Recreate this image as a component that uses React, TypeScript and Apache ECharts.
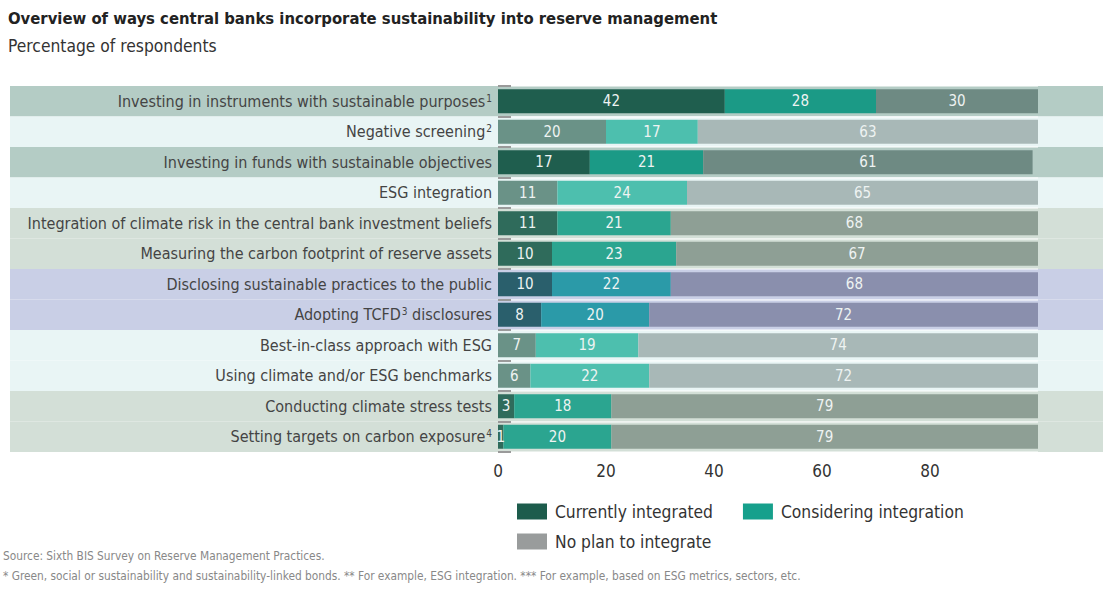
import React, { useEffect, useRef } from "react";
import * as echarts from "echarts";

const categories = [
  "Investing in instruments with sustainable purposes",
  "Negative screening",
  "Investing in funds with sustainable objectives",
  "ESG integration",
  "Integration of climate risk in the central bank investment beliefs",
  "Measuring the carbon footprint of reserve assets",
  "Disclosing sustainable practices to the public",
  "Adopting TCFD{sup|3} disclosures",
  "Best-in-class approach with ESG",
  "Using climate and/or ESG benchmarks",
  "Conducting climate stress tests",
  "Setting targets on carbon exposure",
];
const footnoteMarks = ["1", "2", "", "", "", "", "", "", "", "", "", "4"];

const currentlyIntegrated = [42, 20, 17, 11, 11, 10, 10, 8, 7, 6, 3, 1];
const consideringIntegration = [28, 17, 21, 24, 21, 23, 22, 20, 19, 22, 18, 20];
const noPlanToIntegrate = [30, 63, 61, 65, 68, 67, 68, 72, 74, 72, 79, 79];

const xTicks = [0, 20, 40, 60, 80];

const seriesNames = ["Currently integrated", "Considering integration", "No plan to integrate"];

const rowGroups = ["dark", "light", "dark", "light", "sage", "sage", "blue", "blue", "light", "light", "sage", "sage"];

const palettes: Record<string, { band: string; cur: string; con: string; no: string }> = {
  dark: { band: "#b4ccc5", cur: "#1f5e4e", con: "#1b9a86", no: "#6e8a83" },
  light: { band: "#e9f5f5", cur: "#6a9287", con: "#4dbfae", no: "#a8b8b7" },
  sage: { band: "#d3dfd7", cur: "#2f6b5b", con: "#2ba590", no: "#8e9f95" },
  blue: { band: "#c9cfe6", cur: "#2a5f6c", con: "#2b9aa8", no: "#8a8fad" },
};

const FONT = "'DejaVu Sans Condensed', 'Liberation Sans Narrow', 'Open Sans', sans-serif";

const sourceText = "Source: Sixth BIS Survey on Reserve Management Practices.";
const noteText =
  "* Green, social or sustainability and sustainability-linked bonds. ** For example, ESG integration. *** For example, based on ESG metrics, sectors, etc.";

export default function App() {
  const ref = useRef<HTMLDivElement>(null);

  useEffect(() => {
    document.body.style.margin = "0";
    if (!ref.current) return;
    const chart = echarts.init(ref.current, null, { renderer: "svg" });

    const labelColor = "#eef3f2";
    const mkData = (vals: number[], key: "cur" | "con" | "no") =>
      vals.map((v, i) => ({ value: v, itemStyle: { color: palettes[rowGroups[i]][key] } }));

    const barCommon = {
      type: "bar",
      stack: "total",
      barWidth: 24,
      z: 3,
      label: {
        show: true,
        position: "inside",
        color: labelColor,
        fontSize: 15,
        fontFamily: FONT,
        formatter: "{c}",
      },
    };

    const legendText = { fontSize: 17.3, color: "#333", fontFamily: FONT, padding: [0, 0, 0, 3] };

    chart.setOption({
      animation: false,
      textStyle: { fontFamily: FONT },
      title: {
        text: "Overview of ways central banks incorporate sustainability into reserve management",
        subtext: "Percentage of respondents",
        left: 6,
        top: 8,
        padding: [2, 2, 2, 2],
        itemGap: 10,
        textStyle: { fontSize: 16.5, fontWeight: "bold", color: "#222", fontFamily: FONT },
        subtextStyle: { fontSize: 17.3, color: "#333", fontFamily: FONT },
      },
      legend: [
        {
          data: [seriesNames[0], seriesNames[1]],
          left: 517,
          top: 503,
          padding: 0,
          itemWidth: 30,
          itemHeight: 16,
          itemGap: 30,
          icon: "rect",
          textStyle: legendText,
        },
        {
          data: [seriesNames[2]],
          left: 517,
          top: 533,
          padding: 0,
          itemWidth: 30,
          itemHeight: 16,
          icon: "rect",
          textStyle: legendText,
        },
      ],
      grid: { left: 498, right: 65, top: 86, bottom: 140, containLabel: false, outerBoundsMode: "none" },
      xAxis: {
        type: "value",
        min: 0,
        max: 100,
        interval: 20,
        axisLine: { show: false },
        axisTick: { show: false },
        splitLine: { show: false },
        axisLabel: {
          fontSize: 17,
          color: "#333",
          margin: 10,
          showMaxLabel: false,
          fontFamily: FONT,
          formatter: (v: number) => (xTicks.includes(v) ? String(v) : ""),
        },
      },
      yAxis: {
        type: "category",
        inverse: true,
        data: categories,
        axisLine: { show: false },
        axisTick: { show: true, inside: true, length: 13, lineStyle: { color: "#9a9a9a", width: 2 } },
        splitLine: { show: true, lineStyle: { color: "rgba(255,255,255,0.5)", width: 2 } },
        axisLabel: {
          fontSize: 16,
          color: "#444",
          margin: 6,
          fontFamily: FONT,
          formatter: (v: string, i: number) => v + (footnoteMarks[i] ? `{sup|${footnoteMarks[i]}}` : ""),
          rich: {
            sup: { fontSize: 10, color: "#444", verticalAlign: "top", fontFamily: FONT, padding: [0, 0, 6, 1] },
          },
        },
      },
      series: [
        { ...barCommon, name: seriesNames[0], itemStyle: { color: "#1d5c4c" }, data: mkData(currentlyIntegrated, "cur") },
        { ...barCommon, name: seriesNames[1], itemStyle: { color: "#16a08c" }, data: mkData(consideringIntegration, "con") },
        { ...barCommon, name: seriesNames[2], itemStyle: { color: "#999c9c" }, data: mkData(noPlanToIntegrate, "no") },
      ],
    });

    // background bands computed from the category scale
    const centers = categories.map((c, i) => chart.convertToPixel({ yAxisIndex: 0 }, i) as number);
    const step = centers.length > 1 ? Math.abs(centers[1] - centers[0]) : 30;
    const width = chart.getWidth();
    const bands = centers.map((cy, i) => ({
      type: "rect",
      z: -10,
      silent: true,
      shape: { x: 10, y: cy - step / 2, width: width - 10, height: step },
      style: { fill: palettes[rowGroups[i]].band },
    }));

    chart.setOption({
      graphic: [
        ...bands,
        {
          type: "text",
          left: 3,
          top: 550,
          style: { text: sourceText, fontSize: 11.8, fill: "#888", fontFamily: FONT },
        },
        {
          type: "text",
          left: 3,
          top: 570,
          style: { text: noteText, fontSize: 11.8, fill: "#888", fontFamily: FONT },
        },
      ],
    });

    return () => chart.dispose();
  }, []);

  return <div ref={ref} style={{ width: 1103, height: 592 }} />;
}
